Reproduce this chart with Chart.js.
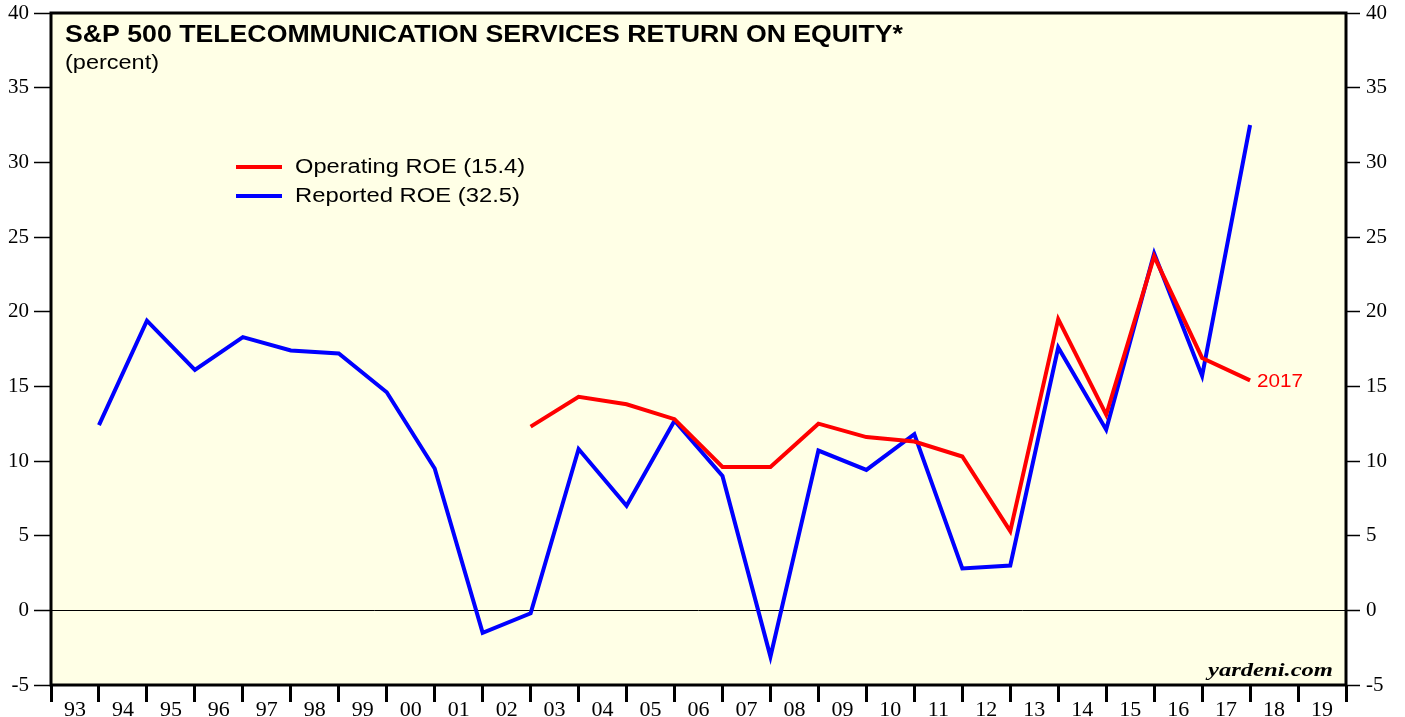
<!DOCTYPE html>
<html>
<head>
<meta charset="utf-8">
<script src="https://cdn.jsdelivr.net/npm/chart.js@4.4.1/dist/chart.umd.min.js"></script>
<style>
  html, body { margin: 0; padding: 0; background: #ffffff; }
  #wrap { width: 1405px; height: 717px; position: relative; }
</style>
</head>
<body>
<div id="wrap"><canvas id="c" width="1405" height="717"></canvas></div>
<script>
// ---- data ----
const categories = ['93','94','95','96','97','98','99','00','01','02','03','04','05','06','07','08','09','10','11','12','13','14','15','16','17','18','19'];
const firstCategoryYear = 1993;
const reportedYears = [1993,1994,1995,1996,1997,1998,1999,2000,2001,2002,2003,2004,2005,2006,2007,2008,2009,2010,2011,2012,2013,2014,2015,2016,2017];
const reportedROE = [12.4,19.4,16.1,18.3,17.4,17.2,14.6,9.5,-1.5,-0.2,10.8,7.0,12.7,9.0,-3.1,10.7,9.4,11.8,2.8,3.0,17.6,12.1,23.9,15.7,32.5];
const operatingYears = [2002,2003,2004,2005,2006,2007,2008,2009,2010,2011,2012,2013,2014,2015,2016,2017];
const operatingROE = [12.3,14.3,13.8,12.8,9.6,9.6,12.5,11.6,11.3,10.3,5.3,19.5,13.1,23.7,16.9,15.4];
const yTicks = [-5,0,5,10,15,20,25,30,35,40];
const seriesNames = ['Operating ROE (15.4)', 'Reported ROE (32.5)'];
const lastLabel = '2017';

const toPts = (xs, ys) => xs.map((x, i) => ({x: x, y: ys[i]}));
const xMin = firstCategoryYear - 1;
const xMax = xMin + categories.length;

const RED = '#ff0000', BLUE = '#0000ff';

function fitText(ctx, text, x, y, w) {
  const m = ctx.measureText(text).width;
  ctx.save();
  ctx.translate(x, y);
  ctx.scale(w / m, 1);
  ctx.fillText(text, 0, 0);
  ctx.restore();
}

const decor = {
  id: 'decor',
  beforeDraw(chart) {
    const {ctx, chartArea: a} = chart;
    ctx.save();
    ctx.fillStyle = '#ffffff';
    ctx.fillRect(0, 0, chart.width, chart.height);
    ctx.fillStyle = '#ffffe6';
    ctx.fillRect(a.left, a.top, a.right - a.left, a.bottom - a.top);
    ctx.restore();
  },
  afterDraw(chart) {
    const {ctx, chartArea: a} = chart;
    const xs = chart.scales.x, ys = chart.scales.y;
    ctx.save();
    // border
    ctx.strokeStyle = '#000';
    ctx.lineWidth = 3;
    ctx.strokeRect(a.left, a.top, a.right - a.left, a.bottom - a.top);
    // title
    ctx.fillStyle = '#000';
    ctx.textAlign = 'left';
    ctx.textBaseline = 'alphabetic';
    ctx.font = 'bold 23px "Liberation Sans", Arial, sans-serif';
    fitText(ctx, 'S&P 500 TELECOMMUNICATION SERVICES RETURN ON EQUITY*', 65, 42, 838);
    ctx.font = '20px "Liberation Sans", Arial, sans-serif';
    fitText(ctx, '(percent)', 65, 69, 94);
    // legend
    const legend = [[seriesNames[0], RED, 167, 230], [seriesNames[1], BLUE, 196, 225]];
    legend.forEach(([t, c, y, w]) => {
      ctx.strokeStyle = c;
      ctx.lineWidth = 4;
      ctx.beginPath();
      ctx.moveTo(236, y);
      ctx.lineTo(282, y);
      ctx.stroke();
      ctx.fillStyle = '#000';
      ctx.font = '20px "Liberation Sans", Arial, sans-serif';
      ctx.textBaseline = 'middle';
      fitText(ctx, t, 295, y, w);
    });
    // 2017 label
    const lx = xs.getPixelForValue(operatingYears[operatingYears.length - 1]);
    const ly = ys.getPixelForValue(operatingROE[operatingROE.length - 1]);
    ctx.fillStyle = RED;
    ctx.font = '19px "Liberation Sans", Arial, sans-serif';
    ctx.textBaseline = 'middle';
    fitText(ctx, lastLabel, lx + 7, ly + 1, 46);
    // source
    ctx.fillStyle = '#000';
    ctx.font = 'italic bold 19px "Liberation Serif", "Times New Roman", serif';
    ctx.textBaseline = 'alphabetic';
    fitText(ctx, 'yardeni.com', 1208, 676, 125);
    ctx.restore();
  }
};

function noVPad(scale) { scale.paddingTop = 0; scale.paddingBottom = 0; }

new Chart(document.getElementById('c'), {
  type: 'line',
  data: {
    datasets: [
      { label: seriesNames[0], data: toPts(operatingYears, operatingROE), borderColor: RED, borderWidth: 4, pointRadius: 0, tension: 0, fill: false },
      { label: seriesNames[1], data: toPts(reportedYears, reportedROE), borderColor: BLUE, borderWidth: 4, pointRadius: 0, tension: 0, fill: false }
    ]
  },
  options: {
    responsive: false,
    animation: false,
    layout: { padding: { top: 13, left: 0, right: 0, bottom: 0 } },
    plugins: { legend: { display: false }, tooltip: { enabled: false }, title: { display: false } },
    elements: { line: { borderJoinStyle: 'miter', borderCapStyle: 'butt' } },
    scales: {
      x: {
        type: 'linear',
        position: 'bottom',
        min: xMin,
        max: xMax,
        afterBuildTicks(scale) {
          const t = [];
          for (let i = 0; i <= categories.length; i++) {
            t.push({ value: xMin + i });
            if (i < categories.length) t.push({ value: xMin + i + 0.5 });
          }
          scale.ticks = t;
        },
        afterFit(scale) { scale.height = 32; scale.paddingLeft = 0; scale.paddingRight = 0; },
        border: { display: false },
        grid: {
          drawOnChartArea: false,
          drawTicks: true,
          tickLength: 17,
          tickWidth: 3,
          tickColor: (ctx) => (ctx.tick && Math.abs(ctx.tick.value % 1) < 1e-6) ? '#000' : 'rgba(0,0,0,0)'
        },
        ticks: {
          autoSkip: false,
          maxRotation: 0,
          minRotation: 0,
          padding: -5,
          color: '#000',
          font: { family: '"Liberation Serif", "Times New Roman", serif', size: 22 },
          callback(value) {
            const d = value - xMin - 0.5;
            const r = Math.round(d);
            return Math.abs(d - r) < 1e-6 ? categories[r] : '';
          }
        }
      },
      y: {
        type: 'linear',
        position: 'left',
        min: -5,
        max: 40,
        afterBuildTicks(scale) { scale.ticks = yTicks.map(v => ({ value: v })); },
        afterFit(scale) { scale.width = 51; noVPad(scale); },
        border: { display: false },
        grid: {
          drawOnChartArea: true,
          drawTicks: true,
          tickLength: 17,
          tickWidth: 1.5,
          tickColor: '#000',
          color: (ctx) => (ctx.tick && ctx.tick.value === 0) ? '#000' : 'rgba(0,0,0,0)',
          lineWidth: 1
        },
        ticks: {
          padding: 5,
          color: '#000',
          font: { family: '"Liberation Serif", "Times New Roman", serif', size: 21 }
        }
      },
      y2: {
        type: 'linear',
        position: 'right',
        min: -5,
        max: 40,
        afterBuildTicks(scale) { scale.ticks = yTicks.map(v => ({ value: v })); },
        afterFit(scale) { scale.width = 59; noVPad(scale); },
        border: { display: false },
        grid: {
          drawOnChartArea: false,
          drawTicks: true,
          tickLength: 14,
          tickWidth: 1.5,
          tickColor: '#000'
        },
        ticks: {
          padding: 6,
          color: '#000',
          font: { family: '"Liberation Serif", "Times New Roman", serif', size: 21 }
        }
      }
    }
  },
  plugins: [decor]
});
</script>
</body>
</html>
